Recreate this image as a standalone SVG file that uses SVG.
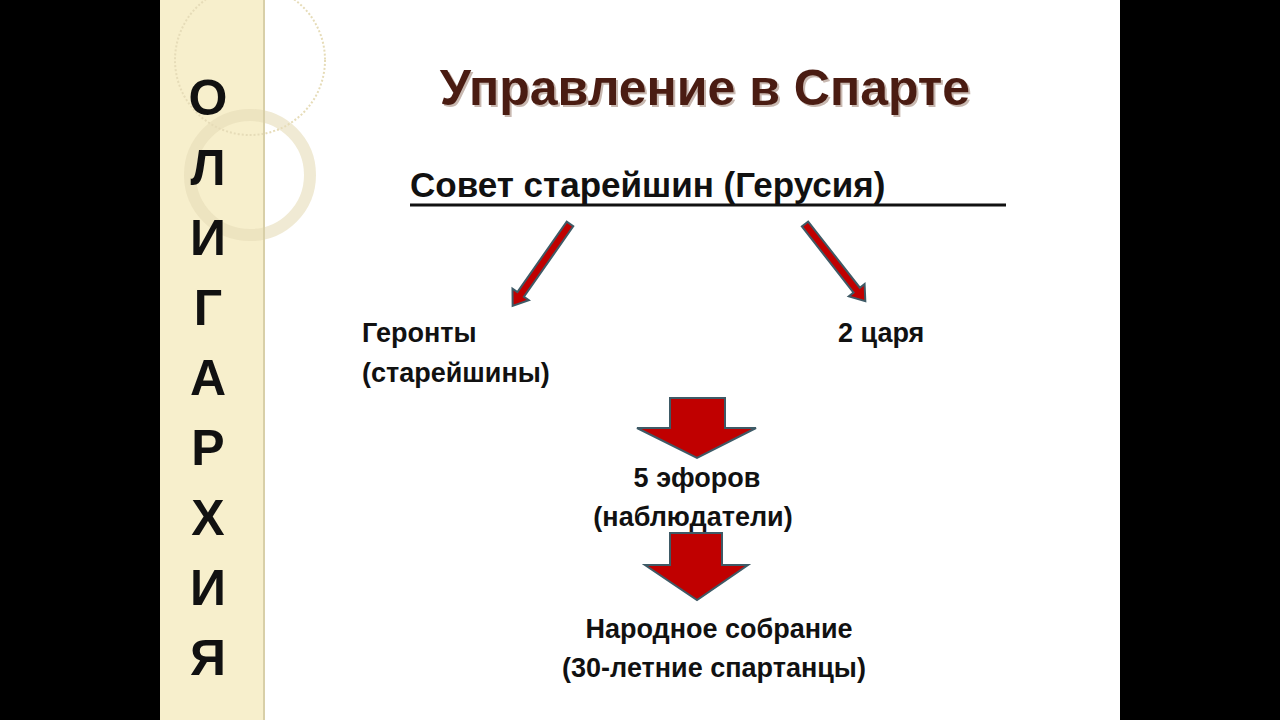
<svg xmlns="http://www.w3.org/2000/svg" width="1280" height="720" viewBox="0 0 1280 720">
<style>
.t{font-family:"Liberation Sans",Arial,sans-serif;font-weight:bold;fill:#111}
.v{font-size:50px;text-anchor:middle}
.n{font-size:27px}
.ar{fill:#c00000;stroke:#3e5a66;stroke-width:2}
</style>
<rect width="1280" height="720" fill="#000"/>
<rect x="160" y="0" width="960" height="720" fill="#fff"/>
<rect x="160" y="0" width="105" height="720" fill="#f7efcc"/>
<g fill="none" stroke="#e6dcb8" stroke-width="2">
<circle cx="250" cy="60" r="75" stroke-dasharray="2 2"/>
<circle cx="250" cy="175" r="60" stroke-width="12" opacity="0.6"/>
</g>
<line x1="264" y1="0" x2="264" y2="720" stroke="#d8cfa8" stroke-width="2"/>
<g id="side" class="t">
<text class="v" x="208" y="115">О</text>
<text class="v" x="208" y="185">Л</text>
<text class="v" x="208" y="255">И</text>
<text class="v" x="208" y="325">Г</text>
<text class="v" x="208" y="395">А</text>
<text class="v" x="208" y="465">Р</text>
<text class="v" x="208" y="535">Х</text>
<text class="v" x="208" y="605">И</text>
<text class="v" x="208" y="675">Я</text>
</g>
<text x="707" y="107" text-anchor="middle" font-family="Liberation Sans,Arial,sans-serif" font-weight="bold" font-size="50" fill="#c8b8b0">Управление в Спарте</text>
<text x="705" y="105" text-anchor="middle" font-family="Liberation Sans,Arial,sans-serif" font-weight="bold" font-size="50" fill="#4a1c12">Управление в Спарте</text>
<g id="gerusia"><text class="t" x="410" y="197" font-size="35">Совет старейшин (Герусия)</text>
<line x1="410" y1="205" x2="1006" y2="205" stroke="#111" stroke-width="3"/></g>
<g id="geronty"><text class="t n" x="362" y="342">Геронты</text><text class="t n" x="362" y="382">(старейшины)</text></g>
<g id="kings"><text class="t n" x="838" y="342">2 царя</text></g>
<g id="efory"><text class="t n" x="697" y="487" text-anchor="middle">5 эфоров</text><text class="t n" x="693" y="526" text-anchor="middle">(наблюдатели)</text></g>
<g id="sobranie"><text class="t n" x="719" y="638" text-anchor="middle">Народное собрание</text><text class="t n" x="714" y="677" text-anchor="middle">(30-летние спартанцы)</text></g>
<g id="connectors">
<polygon class="ar" transform="translate(570,224) rotate(125)" points="0,-4 86,-4 86,-10 100,0 86,10 86,4 0,4"/>
<polygon class="ar" transform="translate(805,224) rotate(52)" points="0,-4 84,-4 84,-10 98,0 84,10 84,4 0,4"/>
<polygon class="ar" points="670,398 725,398 725,428 756,428 697,458 637,428 670,428"/>
<polygon class="ar" points="670,533 722,533 722,565 748,565 697,600 645,565 670,565"/>
</g>
</svg>
